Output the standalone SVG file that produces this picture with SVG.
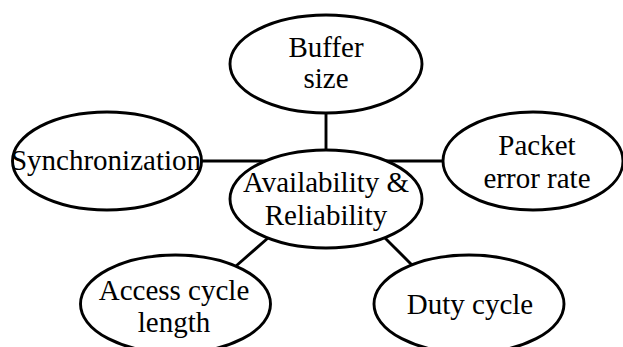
<svg xmlns="http://www.w3.org/2000/svg" width="623" height="347" viewBox="0 0 623 347">
<style>
.n{fill:#fff;stroke:#000;stroke-width:2.9}
.c{stroke:#000;stroke-width:2.9;fill:none}
text{font-family:"Liberation Serif","Times New Roman",serif;font-size:29px;fill:#000;text-anchor:middle}
</style>
<rect width="623" height="347" fill="#fff"/>
<g id="connectors">
<line class="c" x1="326" y1="113" x2="326" y2="150"/>
<line class="c" x1="201" y1="161" x2="266" y2="161"/>
<line class="c" x1="386" y1="161" x2="443" y2="161"/>
<line class="c" x1="268" y1="238" x2="236" y2="266"/>
<line class="c" x1="385" y1="238" x2="412" y2="265"/>
</g>
<g id="buffer">
<ellipse class="n" cx="326" cy="64" rx="96" ry="49"/>
<text x="326" y="57">Buffer</text>
<text x="326" y="88">size</text>
</g>
<g id="sync">
<ellipse class="n" cx="107" cy="161" rx="94.5" ry="49"/>
<text x="106" y="170">Synchronization</text>
</g>
<g id="packet">
<ellipse class="n" cx="533" cy="161" rx="90" ry="49"/>
<text x="537" y="155">Packet</text>
<text x="537" y="188">error rate</text>
</g>
<g id="center">
<ellipse class="n" cx="326" cy="199" rx="96" ry="49"/>
<text x="326" y="192">Availability &amp;</text>
<text x="326" y="225">Reliability</text>
</g>
<g id="access">
<ellipse class="n" cx="175.5" cy="304" rx="95" ry="49"/>
<text x="174" y="300">Access cycle</text>
<text x="174" y="332">length</text>
</g>
<g id="duty">
<ellipse class="n" cx="469" cy="304" rx="95" ry="49"/>
<text x="470" y="314">Duty cycle</text>
</g>
</svg>
